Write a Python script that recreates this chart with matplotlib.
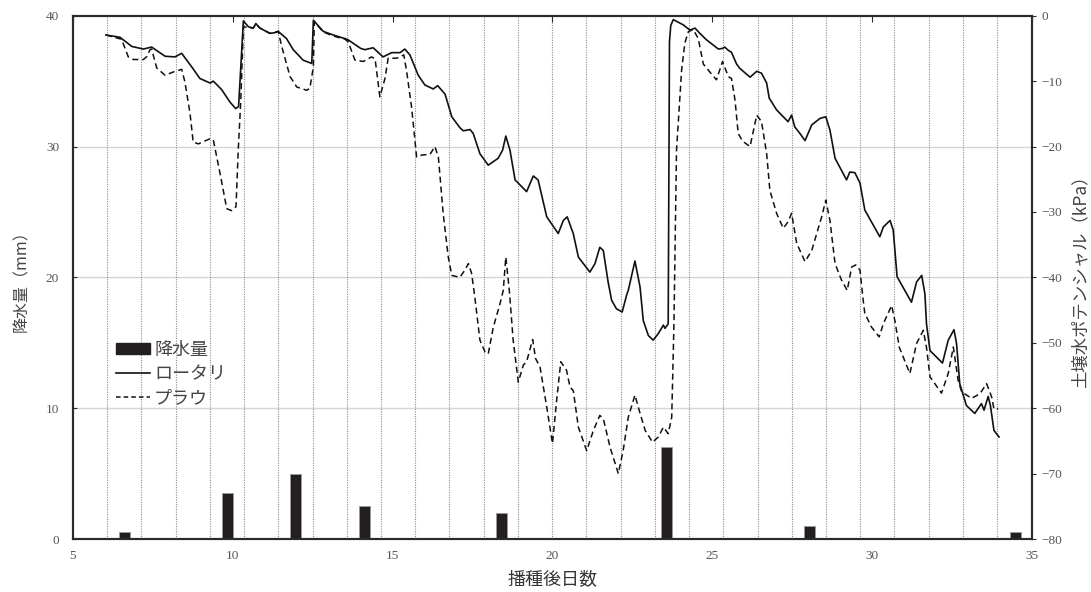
import numpy as np
import matplotlib.pyplot as plt
from matplotlib.patches import Patch
from matplotlib.lines import Line2D

jp = ['Noto Sans CJK JP', 'DejaVu Sans']
num_font = 'Liberation Serif'

# 降水量 (mm), 日別
rain_day = [6.62, 9.83, 11.96, 14.11, 18.40, 23.56, 28.03, 34.48]
rain_mm = [0.5, 3.5, 5.0, 2.5, 2.0, 7.0, 1.0, 0.5]

# ロータリ 土壌水ポテンシャル (kPa)
rot_day = [6.03, 6.47, 6.84, 7.20, 7.46, 7.88, 8.19, 8.40, 8.71, 8.97, 9.29, 9.39, 9.65,
           9.91, 10.09, 10.18, 10.33, 10.49, 10.64, 10.72, 10.85, 11.16, 11.32, 11.42,
           11.68, 11.89, 12.20, 12.47, 12.52, 12.83, 13.14, 13.51, 13.61, 14.00, 14.13,
           14.39, 14.70, 14.97, 15.23, 15.38, 15.54, 15.80, 16.01, 16.27, 16.41, 16.64,
           16.85, 17.10, 17.21, 17.42, 17.52, 17.73, 17.99, 18.30, 18.44, 18.54, 18.67,
           18.83, 19.19, 19.40, 19.55, 19.82, 20.18, 20.34, 20.46, 20.65, 20.81, 21.17,
           21.33, 21.48, 21.59, 21.74, 21.85, 22.00, 22.18, 22.32, 22.37, 22.58, 22.74,
           22.84, 23.00, 23.15, 23.31, 23.47, 23.52, 23.62, 23.66, 23.70, 23.78, 24.09,
           24.30, 24.46, 24.61, 24.82, 25.19, 25.32, 25.39, 25.50, 25.60, 25.76, 25.86,
           26.18, 26.39, 26.54, 26.70, 26.78, 27.01, 27.37, 27.48, 27.58, 27.74, 27.90,
           28.11, 28.37, 28.55, 28.68, 28.84, 29.20, 29.30, 29.46, 29.62, 29.77, 30.24,
           30.35, 30.56, 30.66, 30.78, 31.08, 31.23, 31.39, 31.55, 31.65, 31.70, 31.81,
           32.20, 32.38, 32.56, 32.64, 32.74, 32.95, 33.21, 33.42, 33.50, 33.63, 33.70,
           33.81, 33.97]
rot_kpa = [-2.95, -3.3, -4.7, -5.1, -4.8, -6.2, -6.3, -5.75, -7.8, -9.6, -10.3, -10.0, -11.3,
           -13.2, -14.2, -13.9, -0.8, -1.7, -1.9, -1.2, -1.9, -2.7, -2.6, -2.4,
           -3.5, -5.2, -6.8, -7.3, -0.7, -2.4, -2.95, -3.5, -3.7, -5.0, -5.2,
           -4.9, -6.3, -5.65, -5.65, -5.1, -6.0, -9.1, -10.6, -11.2, -10.7, -12.0,
           -15.45, -17.1, -17.6, -17.4, -18.0, -21.1, -22.85, -21.8, -20.55, -18.4, -20.55,
           -25.1, -26.9, -24.5, -25.1, -30.75, -33.3, -31.3, -30.75, -33.3, -36.9, -39.2,
           -37.9, -35.4, -35.9, -40.7, -43.5, -44.8, -45.3, -42.7, -42.0, -37.5, -41.5,
           -46.6, -48.9, -49.6, -48.6, -47.3, -47.8, -47.1, -4.0, -1.5, -0.6, -1.4,
           -2.2, -1.9, -2.7, -3.7, -5.1, -5.0, -4.8, -5.3, -5.6, -7.4, -8.05,
           -9.4, -8.5, -8.8, -10.3, -12.6, -14.4, -16.2, -15.2, -17.0, -18.0, -19.1,
           -16.7, -15.7, -15.45, -17.5, -21.8, -25.1, -23.9, -24.0, -25.6, -29.7, -33.8,
           -32.3, -31.3, -32.8, -39.9, -42.5, -43.8, -40.7, -39.7, -42.5, -47.1, -51.2,
           -53.1, -49.6, -48.0, -50.1, -56.25, -59.6, -60.8, -59.3, -60.3, -58.2, -59.6,
           -63.4, -64.4]

# プラウ 土壌水ポテンシャル (kPa)
plow_day = [6.03, 6.52, 6.73, 6.89, 7.20, 7.30, 7.41, 7.46, 7.62, 7.88, 8.14, 8.40, 8.50,
            8.66, 8.76, 8.92, 9.29, 9.39, 9.60, 9.81, 9.96, 10.10, 10.17, 10.25, 10.33,
            10.49, 10.64, 10.72, 10.85, 11.16, 11.32, 11.42, 11.53, 11.79, 12.00, 12.31,
            12.41, 12.52, 12.55, 12.83, 13.14, 13.51, 13.61, 13.82, 14.08, 14.34, 14.45,
            14.60, 14.76, 14.86, 15.13, 15.35, 15.44, 15.59, 15.75, 15.91, 16.17, 16.32,
            16.43, 16.58, 16.74, 16.85, 17.10, 17.26, 17.37, 17.47, 17.57, 17.73, 17.89,
            17.99, 18.15, 18.36, 18.46, 18.54, 18.65, 18.77, 18.93, 19.09, 19.19, 19.38,
            19.47, 19.61, 19.82, 20.00, 20.13, 20.26, 20.44, 20.55, 20.65, 20.81, 21.07,
            21.28, 21.48, 21.59, 21.80, 22.06, 22.21, 22.37, 22.58, 22.74, 22.90, 23.13,
            23.31, 23.47, 23.62, 23.73, 23.80, 23.88, 24.04, 24.14, 24.25, 24.40, 24.56,
            24.72, 24.92, 25.13, 25.32, 25.50, 25.60, 25.71, 25.81, 25.95, 26.18, 26.39,
            26.54, 26.70, 26.80, 27.01, 27.22, 27.37, 27.48, 27.64, 27.90, 28.11, 28.42,
            28.55, 28.68, 28.84, 29.04, 29.22, 29.36, 29.49, 29.62, 29.72, 29.77, 29.98,
            30.22, 30.35, 30.61, 30.71, 30.85, 31.18, 31.39, 31.60, 31.70, 31.81, 32.17,
            32.38, 32.54, 32.69, 32.80, 33.11, 33.37, 33.58, 33.74, 33.81, 33.94]
plow_kpa = [-2.95, -3.6, -6.3, -6.7, -6.7, -6.3, -5.2, -5.1, -8.0, -9.1, -8.6, -8.2, -10.1,
            -14.9, -19.3, -19.6, -18.8, -19.0, -24.1, -29.5, -29.8, -29.2, -20.5, -12.9, -1.7,
            -1.8, -1.9, -1.3, -1.9, -2.7, -2.5, -2.4, -4.7, -9.3, -10.9, -11.4,
            -11.1, -7.8, -0.9, -2.5, -3.1, -3.6, -4.0, -6.8, -7.0, -6.3, -6.6,
            -12.4, -9.6, -6.5, -6.5, -6.0, -8.6, -13.9, -21.6, -21.3, -21.2, -20.0,
            -21.6, -30.2, -36.9, -39.7, -40.0, -38.9, -37.9, -39.4, -43.0, -49.6, -51.4,
            -51.7, -47.6, -44.0, -42.0, -36.9, -42.0, -49.6, -56.0, -53.4, -52.9, -49.5,
            -52.4, -53.7, -59.8, -65.4, -58.8, -52.9, -54.2, -56.8, -57.3, -62.9, -66.5,
            -63.4, -61.1, -61.6, -65.95, -70.0, -66.5, -61.4, -58.0, -60.8, -63.4, -65.2,
            -64.4, -62.9, -63.9, -61.4, -47.1, -20.55, -8.3, -4.2, -2.45, -2.1, -3.5,
            -7.4, -8.6, -9.8, -7.0, -9.3, -9.6, -12.9, -18.0, -19.2, -20.0, -15.2,
            -16.2, -21.1, -26.7, -30.2, -32.5, -31.5, -30.2, -34.8, -37.6, -35.9, -30.75,
            -28.2, -31.3, -37.9, -40.4, -42.0, -38.4, -38.1, -38.9, -43.5, -45.5, -47.6,
            -49.1, -47.1, -44.3, -46.6, -50.7, -54.7, -50.1, -48.1, -50.7, -55.2, -57.7,
            -54.7, -50.65, -55.75, -57.5, -58.5, -57.8, -56.25, -58.3, -60.1, -60.1]

left_ticks = [0, 10, 20, 30, 40]
right_ticks = [-80, -70, -60, -50, -40, -30, -20, -10, 0]
x_ticks = [5, 10, 15, 20, 25, 30, 35]

fig = plt.figure(figsize=(10.91, 5.92), dpi=100)
ax = fig.add_axes([0.0669, 0.0895, 0.8790, 0.8840])
ax2 = ax.twinx()

# 日境界の点線
for xv in np.linspace(6.07, 33.91, 27):
    ax.axvline(xv, color='#8c8c8c', lw=0.8, ls=(0, (1, 1.2)), zorder=1)
for yv in [10, 20, 30]:
    ax.axhline(yv, color='#d6d6d6', lw=1.0, zorder=0.5)

ax.bar(rain_day, rain_mm, width=0.35, color='#231f20', edgecolor='#9a9a9a', lw=0.6, zorder=3)

ax2.plot(rot_day, rot_kpa, color='#111111', lw=1.2, zorder=4)
ax2.plot(plow_day, plow_kpa, color='#111111', lw=1.1, ls=(0, (4, 2.5)), zorder=4)

ax.set_xlim(5, 35)
ax.set_ylim(0, 40)
ax2.set_ylim(-80, 0)
ax.set_xticks(x_ticks)
ax.set_yticks(left_ticks)
ax2.set_yticks(right_ticks)
ax.set_xticklabels([str(v) for v in x_ticks])
ax.set_yticklabels([str(v) for v in left_ticks])
ax2.set_yticklabels(['0' if v == 0 else '\u2212' + str(-v) for v in right_ticks])

for a in (ax, ax2):
    for sp in a.spines.values():
        sp.set_color('#2b2b2b')
        sp.set_linewidth(1.5)
ax.tick_params(axis='x', bottom=False, top=True, direction='in', length=4,
               labelbottom=True, labelsize=9.5, labelcolor='#555555', pad=8, color='#2b2b2b')
ax.tick_params(axis='y', direction='in', length=3, labelsize=9.5, labelcolor='#555555',
               pad=10, color='#2b2b2b')
ax2.tick_params(axis='y', direction='out', length=3, labelsize=9.5, labelcolor='#555555',
                pad=4, color='#2b2b2b')
for lab in ax.get_xticklabels() + ax.get_yticklabels() + ax2.get_yticklabels():
    lab.set_fontfamily(num_font)

ax.set_xlabel('播種後日数', family=jp, fontsize=13, color='#333333', labelpad=6)
ax.set_ylabel('降水量（mm）', family=jp, fontsize=11.5, color='#444444', labelpad=11)
ax2.set_ylabel('土壌水ポテンシャル（kPa）', family=jp, fontsize=12.5, color='#444444', labelpad=6)

handles = [Patch(facecolor='#231f20', edgecolor='#231f20'),
           Line2D([], [], color='#111111', lw=1.2),
           Line2D([], [], color='#111111', lw=1.1, ls=(0, (3, 2)))]
leg = ax2.legend(handles, ['降水量', 'ロータリ', 'プラウ'], loc='upper left',
                 bbox_to_anchor=(0.028, 0.41), frameon=False, handlelength=1.9,
                 handleheight=0.6, handletextpad=0.2, labelspacing=0.35,
                 prop={'family': jp, 'size': 13})
for t in leg.get_texts():
    t.set_color('#444444')

fig.savefig('out.png', dpi=100)
